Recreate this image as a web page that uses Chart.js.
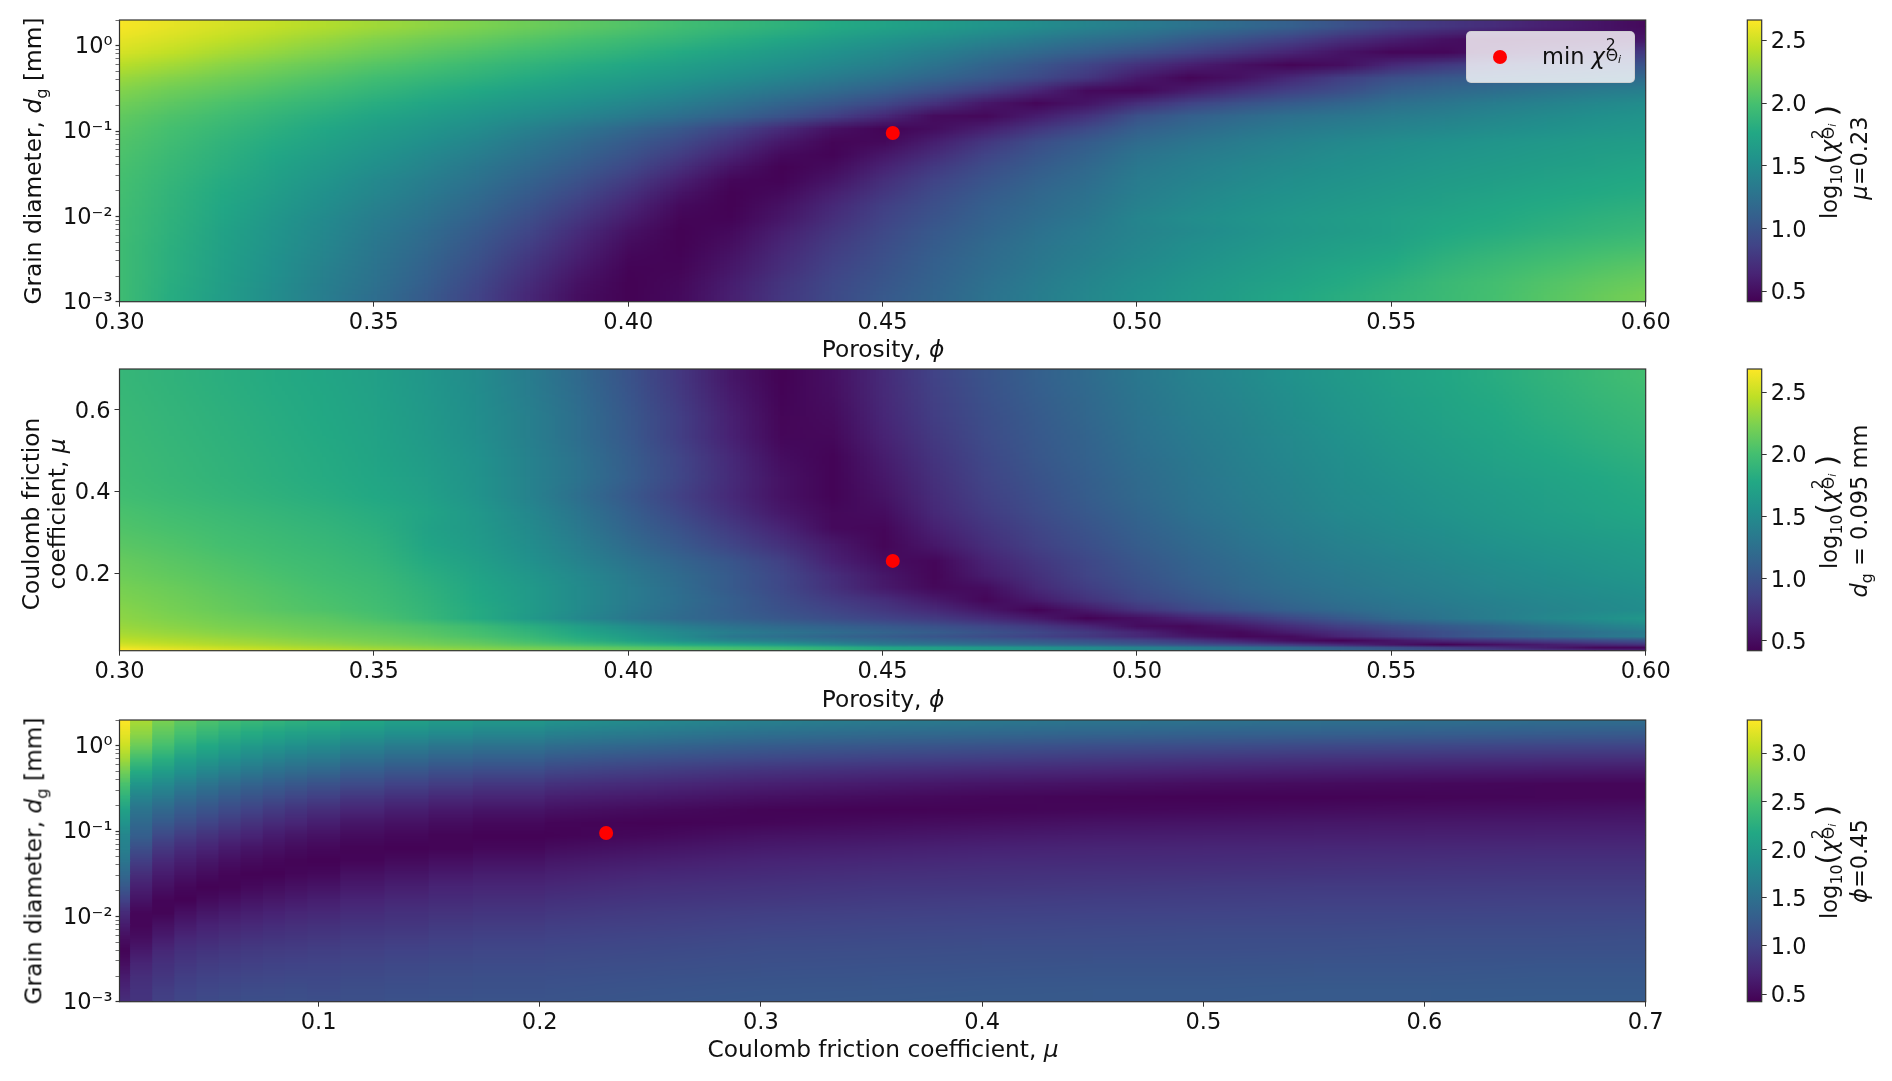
<!DOCTYPE html>
<html><head><meta charset="utf-8">
<script src="https://cdn.jsdelivr.net/npm/chart.js@4"></script>
<style>
html,body{margin:0;padding:0;background:#fff;width:1892px;height:1081px;overflow:hidden}
canvas{position:absolute;left:0}
.lab{position:absolute;white-space:nowrap;font:22.5px "DejaVu Sans";color:#111;transform:translate(-50%,-50%);line-height:1;z-index:5}
.big{font-size:23.3px}
.v{transform:translate(-50%,-50%) rotate(-90deg)}
.lab i{font-style:oblique}
.lab sub,.lab sup{font-size:70%;line-height:0}
.ss{display:inline-block;position:relative;width:1.05em;height:1em;vertical-align:baseline}
.ss b{position:absolute;left:.05em;font-weight:normal;font-size:70%;line-height:1}
.ss .u{top:-.28em}.ss .d{top:.42em;white-space:nowrap}
.ss .d i{font-size:70%;position:relative;top:.2em}
.par{font-size:128%;line-height:0;position:relative;top:.03em}
#legend{position:absolute;left:1466px;top:31px;width:167px;height:50px;background:rgba(255,255,255,.8);border:1px solid rgba(204,204,204,.8);border-radius:5px;z-index:4}
#legend .dot{position:absolute;left:26px;top:18px;width:14px;height:14px;border-radius:50%;background:#f00}
#legend .lab{left:75px;top:22px;transform:translate(0,-50%)}
</style></head><body>
<canvas id="c1" style="top:0"></canvas><canvas id="b1" style="top:0;left:1700px"></canvas>
<canvas id="c2" style="top:349.3px"></canvas><canvas id="b2" style="top:349.3px;left:1700px"></canvas>
<canvas id="c3" style="top:700px"></canvas><canvas id="b3" style="top:700px;left:1700px"></canvas>

<div id="legend"><span class="dot"></span><span class="lab">min <i>χ</i><span class="ss"><b class="u">2</b><b class="d">Θ<i>i</i></b></span></span></div>

<div class="lab big v" style="left:33px;top:161px">Grain diameter, <i>d</i><sub>g</sub> [mm]</div>
<div class="lab big" style="left:883px;top:349px">Porosity, <i>ϕ</i></div>
<div class="lab v" style="left:1827px;top:162px">log<sub>10</sub><span class="par">(</span><i>χ</i><span class="ss"><b class="u">2</b><b class="d">Θ<i>i</i></b></span><span class="par">)</span></div>
<div class="lab v" style="left:1859px;top:158px"><i>μ</i>=0.23</div>

<div class="lab big v" style="left:31px;top:514px">Coulomb friction</div>
<div class="lab big v" style="left:57px;top:514px">coefficient, <i>μ</i></div>
<div class="lab big" style="left:883px;top:699px">Porosity, <i>ϕ</i></div>
<div class="lab v" style="left:1827px;top:512px">log<sub>10</sub><span class="par">(</span><i>χ</i><span class="ss"><b class="u">2</b><b class="d">Θ<i>i</i></b></span><span class="par">)</span></div>
<div class="lab v" style="left:1859px;top:511px"><i>d</i><sub>g</sub> = 0.095 mm</div>

<div class="lab big v" style="left:33px;top:861px">Grain diameter, <i>d</i><sub>g</sub> [mm]</div>
<div class="lab big" style="left:883px;top:1049px">Coulomb friction coefficient, <i>μ</i></div>
<div class="lab v" style="left:1827px;top:862px">log<sub>10</sub><span class="par">(</span><i>χ</i><span class="ss"><b class="u">2</b><b class="d">Θ<i>i</i></b></span><span class="par">)</span></div>
<div class="lab v" style="left:1859px;top:861px"><i>ϕ</i>=0.45</div>

<script>
// ---- axes and tick labels ----
const phiKnots=[.30,.31,.32,.33,.34,.35,.36,.37,.38,.39,.40,.41,.42,.43,.44,.45,.46,.47,.48,.49,.50,.51,.52,.53,.54,.55,.56,.57,.58,.59,.60];
const dgEdges=[.001,.00141,.002,.00282,.00398,.00562,.00794,.0112,.0158,.0224,.0316,.0447,.0631,.0891,.126,.178,.251,.355,.501,.708,1,1.41,2];
const muEdges=[.01,.015,.02,.03,.04,.05,.06,.08,.10,.12,.15,.18,.21,.25,.29,.33,.37,.41,.46,.51,.56,.61,.66,.70];
const muColumns=[.01,.02,.03,.04,.05,.06,.07,.08,.09,.10,.12,.14,.16,.18,.20,.25,.30,.35,.40,.45,.50,.55,.60,.65,.70];
const phiTicks=[.30,.35,.40,.45,.50,.55,.60];
const muTicksY=[.2,.4,.6];
const muTicksX=[.1,.2,.3,.4,.5,.6,.7];
const dgMajorTicks=[.001,.01,.1,1];
const dgMajorLabels=["10⁻³","10⁻²","10⁻¹","10⁰"];
const dgMinorTicks=[.002,.003,.004,.005,.006,.007,.008,.009,.02,.03,.04,.05,.06,.07,.08,.09,.2,.3,.4,.5,.6,.7,.8,.9,2];
const cbarTicks1=[.5,1,1.5,2,2.5];
const cbarTicks3=[.5,1,1.5,2,2.5,3];
const cbarRange1=[.42,2.66], cbarRange2=[.42,2.69], cbarRange3=[.42,3.35];
const viridis=["#440154","#482475","#414487","#355f8d","#2a788e","#21918c","#22a884","#44bf70","#7ad151","#bddf26","#fde725"];
// ---- best fit ----
const minPhi=[.452], minDg=[.095], minMu=[.23];

// ---- log10(chi^2): dg rows (bottom to top) across phi ----
const gridPhiDg=[
[1.95,1.80,1.66,1.50,1.36,1.23,1.06,.87,.67,.50,.43,.48,.62,.78,.92,1.04,1.15,1.26,1.36,1.45,1.53,1.61,1.68,1.75,1.81,1.87,1.93,1.99,2.06,2.13,2.20],
[1.95,1.81,1.67,1.52,1.38,1.25,1.09,.90,.71,.53,.43,.47,.60,.76,.90,1.02,1.13,1.24,1.34,1.43,1.51,1.59,1.66,1.72,1.78,1.84,1.92,1.98,2.04,2.10,2.15],
[1.95,1.82,1.68,1.54,1.40,1.27,1.12,.94,.75,.57,.44,.45,.57,.72,.87,.99,1.11,1.22,1.32,1.41,1.49,1.56,1.63,1.69,1.75,1.80,1.88,1.94,2.00,2.05,2.10],
[1.95,1.82,1.69,1.55,1.42,1.29,1.15,.98,.79,.61,.46,.44,.54,.69,.84,.97,1.09,1.20,1.30,1.38,1.46,1.53,1.60,1.66,1.71,1.76,1.84,1.90,1.95,2.00,2.04],
[1.95,1.83,1.70,1.57,1.44,1.31,1.18,1.02,.84,.65,.49,.43,.51,.66,.81,.94,1.07,1.18,1.28,1.36,1.44,1.51,1.57,1.63,1.68,1.72,1.80,1.85,1.90,1.94,1.98],
[1.96,1.84,1.71,1.58,1.46,1.33,1.21,1.06,.89,.70,.53,.43,.48,.62,.77,.91,1.04,1.15,1.25,1.34,1.42,1.48,1.54,1.60,1.64,1.69,1.76,1.80,1.84,1.88,1.92],
[1.96,1.85,1.73,1.60,1.48,1.36,1.25,1.11,.95,.77,.59,.45,.44,.56,.72,.87,1.00,1.12,1.22,1.31,1.43,1.50,1.56,1.61,1.65,1.69,1.73,1.77,1.81,1.85,1.88],
[1.97,1.86,1.75,1.63,1.51,1.40,1.29,1.16,1.01,.83,.65,.48,.43,.53,.68,.84,.97,1.09,1.19,1.28,1.40,1.47,1.53,1.58,1.62,1.66,1.70,1.74,1.78,1.81,1.84],
[1.98,1.87,1.77,1.66,1.54,1.44,1.33,1.21,1.07,.91,.73,.54,.43,.48,.62,.78,.93,1.05,1.16,1.25,1.37,1.44,1.50,1.55,1.59,1.63,1.67,1.71,1.74,1.77,1.80],
[1.99,1.89,1.79,1.69,1.58,1.47,1.37,1.26,1.13,.98,.81,.62,.46,.44,.55,.72,.87,1.00,1.12,1.22,1.35,1.41,1.47,1.52,1.56,1.60,1.64,1.67,1.71,1.74,1.77],
[2.00,1.91,1.82,1.72,1.62,1.52,1.42,1.31,1.19,1.06,.90,.72,.54,.43,.49,.64,.80,.94,1.07,1.18,1.32,1.38,1.44,1.49,1.53,1.57,1.61,1.64,1.67,1.70,1.74],
[2.02,1.93,1.84,1.75,1.66,1.57,1.47,1.37,1.25,1.13,.98,.82,.64,.48,.44,.56,.71,.87,1.01,1.13,1.27,1.34,1.40,1.45,1.50,1.54,1.58,1.61,1.64,1.67,1.70],
[2.04,1.96,1.87,1.79,1.71,1.62,1.53,1.43,1.32,1.20,1.06,.92,.75,.57,.45,.47,.61,.78,.94,1.07,1.20,1.28,1.35,1.41,1.46,1.50,1.54,1.58,1.61,1.64,1.66],
[2.07,1.99,1.91,1.83,1.75,1.67,1.59,1.50,1.40,1.29,1.16,1.03,.87,.69,.52,.44,.50,.62,.78,.93,1.10,1.19,1.27,1.33,1.38,1.42,1.46,1.50,1.54,1.58,1.61],
[2.11,2.03,1.96,1.88,1.81,1.73,1.66,1.58,1.50,1.42,1.33,1.23,1.12,.99,.84,.68,.49,.47,.60,.75,.98,1.10,1.18,1.25,1.30,1.35,1.39,1.44,1.49,1.53,1.57],
[2.17,2.09,2.02,1.95,1.88,1.81,1.74,1.67,1.60,1.53,1.45,1.36,1.26,1.15,1.03,.90,.74,.56,.46,.55,.72,.87,.98,1.07,1.15,1.24,1.30,1.36,1.41,1.46,1.50],
[2.24,2.16,2.10,2.03,1.96,1.89,1.82,1.76,1.69,1.63,1.56,1.48,1.39,1.30,1.20,1.09,.97,.83,.66,.48,.46,.59,.73,.85,.95,1.10,1.17,1.23,1.29,1.34,1.38],
[2.32,2.25,2.18,2.11,2.04,1.97,1.91,1.85,1.79,1.72,1.66,1.59,1.51,1.43,1.34,1.25,1.15,1.04,.92,.78,.58,.45,.53,.68,.83,.96,1.03,1.08,1.12,1.16,1.20],
[2.42,2.35,2.27,2.20,2.13,2.06,2.00,1.93,1.87,1.81,1.75,1.68,1.61,1.54,1.46,1.38,1.27,1.15,1.02,.88,.74,.62,.52,.45,.50,.68,.79,.87,.93,.97,1.00],
[2.52,2.45,2.37,2.30,2.23,2.16,2.09,2.03,1.97,1.91,1.85,1.78,1.71,1.63,1.55,1.47,1.38,1.28,1.18,1.08,.98,.87,.76,.65,.54,.46,.46,.55,.63,.72,.80],
[2.58,2.52,2.45,2.38,2.31,2.24,2.18,2.12,2.06,2.00,1.94,1.88,1.81,1.74,1.66,1.58,1.50,1.42,1.33,1.24,1.18,1.06,.96,.85,.72,.61,.52,.46,.48,.52,.57],
[2.64,2.58,2.52,2.46,2.40,2.34,2.28,2.22,2.16,2.10,2.04,1.97,1.91,1.85,1.78,1.72,1.65,1.58,1.50,1.42,1.35,1.27,1.19,1.10,.98,.85,.77,.70,.62,.55,.47]
];

// ---- log10(chi^2): mu rows (bottom to top) across phi ----
const gridPhiMu=[
[2.68,2.62,2.56,2.50,2.45,2.40,2.35,2.30,2.25,2.20,2.15,2.10,2.05,2.00,1.90,1.80,1.73,1.66,1.60,1.53,1.45,1.38,1.31,1.24,1.15,1.04,.93,.82,.72,.62,.58],
[2.62,2.56,2.50,2.44,2.39,2.34,2.29,2.24,2.19,2.14,2.09,2.04,1.98,1.92,1.85,1.75,1.69,1.63,1.57,1.50,1.43,1.35,1.26,1.17,1.07,.96,.84,.72,.60,.47,.46],
[2.54,2.48,2.42,2.37,2.32,2.27,2.22,2.16,2.08,2.00,1.90,1.80,1.72,1.62,1.48,1.35,1.30,1.25,1.19,1.13,1.05,.97,.88,.79,.67,.54,.44,.52,.60,.68,.75],
[2.47,2.42,2.37,2.32,2.27,2.22,2.17,2.10,2.00,1.87,1.72,1.56,1.44,1.36,1.28,1.20,1.14,1.08,1.03,.97,.88,.77,.63,.50,.44,.55,.68,.77,.85,.93,1.00],
[2.42,2.37,2.32,2.27,2.22,2.18,2.12,2.04,1.94,1.81,1.66,1.50,1.32,1.25,1.16,1.08,1.02,.95,.87,.79,.68,.56,.46,.49,.66,.81,.97,1.09,1.19,1.29,1.38],
[2.38,2.33,2.28,2.24,2.19,2.15,2.09,2.01,1.90,1.76,1.61,1.48,1.37,1.29,1.22,1.15,1.08,1.00,.91,.80,.66,.50,.47,.60,.72,.85,.97,1.08,1.18,1.27,1.36],
[2.34,2.29,2.24,2.20,2.15,2.11,2.05,1.96,1.84,1.69,1.53,1.38,1.27,1.19,1.12,1.05,.98,.90,.80,.66,.50,.47,.58,.72,.85,.96,1.06,1.16,1.27,1.38,1.48],
[2.30,2.25,2.20,2.15,2.11,2.04,1.93,1.80,1.64,1.47,1.32,1.20,1.12,1.03,.95,.87,.80,.70,.58,.44,.52,.65,.77,.92,1.05,1.20,1.30,1.38,1.46,1.54,1.62],
[2.28,2.22,2.16,2.10,2.05,2.00,1.91,1.80,1.66,1.50,1.35,1.22,1.09,.98,.88,.79,.69,.56,.44,.58,.76,.90,1.02,1.12,1.20,1.27,1.33,1.39,1.44,1.48,1.52],
[2.25,2.20,2.14,2.08,2.03,1.98,1.89,1.78,1.65,1.50,1.36,1.24,1.10,.95,.82,.72,.58,.46,.59,.75,.89,1.00,1.10,1.19,1.26,1.32,1.37,1.42,1.46,1.50,1.54],
[2.22,2.17,2.11,2.06,2.01,1.96,1.87,1.76,1.64,1.50,1.36,1.22,1.06,.91,.74,.58,.47,.50,.69,.83,.96,1.07,1.17,1.25,1.31,1.36,1.41,1.46,1.50,1.54,1.57],
[2.18,2.13,2.08,2.03,1.98,1.94,1.84,1.73,1.61,1.48,1.34,1.20,1.06,.90,.72,.56,.45,.60,.74,.88,1.00,1.11,1.20,1.28,1.34,1.39,1.44,1.49,1.53,1.57,1.61],
[2.15,2.10,2.05,2.00,1.96,1.91,1.80,1.69,1.56,1.43,1.28,1.15,1.02,.85,.63,.50,.46,.64,.78,.91,1.03,1.14,1.23,1.31,1.37,1.42,1.47,1.52,1.56,1.60,1.65],
[2.10,2.06,2.01,1.97,1.93,1.88,1.75,1.65,1.53,1.38,1.21,1.05,.89,.74,.58,.45,.57,.72,.85,.97,1.08,1.18,1.27,1.35,1.41,1.46,1.51,1.56,1.60,1.64,1.68],
[2.06,2.02,1.98,1.94,1.90,1.85,1.72,1.63,1.50,1.34,1.15,.98,.81,.65,.48,.46,.63,.77,.89,1.01,1.12,1.22,1.31,1.38,1.45,1.50,1.55,1.60,1.65,1.69,1.73],
[2.03,1.99,1.95,1.91,1.87,1.82,1.74,1.62,1.47,1.30,1.10,.91,.73,.57,.47,.50,.68,.82,.94,1.05,1.16,1.26,1.34,1.41,1.48,1.53,1.58,1.63,1.68,1.73,1.78],
[1.99,1.95,1.91,1.87,1.83,1.78,1.70,1.58,1.43,1.25,1.05,.85,.68,.53,.44,.54,.71,.85,.97,1.08,1.19,1.28,1.36,1.43,1.50,1.55,1.60,1.65,1.70,1.75,1.80],
[1.97,1.93,1.89,1.85,1.81,1.76,1.68,1.57,1.43,1.28,1.09,.89,.70,.53,.44,.57,.74,.88,1.00,1.10,1.21,1.30,1.38,1.45,1.52,1.57,1.63,1.68,1.73,1.78,1.83],
[1.96,1.92,1.88,1.84,1.80,1.74,1.66,1.56,1.42,1.27,1.08,.88,.68,.50,.44,.60,.77,.91,1.03,1.13,1.24,1.32,1.40,1.47,1.54,1.60,1.66,1.72,1.77,1.82,1.87],
[1.95,1.91,1.87,1.83,1.79,1.73,1.64,1.54,1.40,1.24,1.05,.83,.63,.46,.47,.64,.80,.94,1.05,1.15,1.26,1.35,1.42,1.49,1.56,1.63,1.69,1.75,1.81,1.86,1.91],
[1.94,1.90,1.86,1.82,1.78,1.72,1.63,1.53,1.40,1.24,1.04,.83,.62,.45,.49,.67,.83,.96,1.07,1.17,1.28,1.37,1.44,1.52,1.59,1.66,1.72,1.78,1.84,1.89,1.94],
[1.93,1.89,1.85,1.81,1.77,1.71,1.62,1.52,1.38,1.22,1.02,.80,.59,.44,.51,.69,.85,.98,1.09,1.19,1.30,1.39,1.46,1.54,1.61,1.68,1.74,1.80,1.86,1.92,1.97],
[1.92,1.88,1.84,1.80,1.76,1.70,1.61,1.51,1.37,1.20,1.00,.78,.56,.43,.52,.70,.87,1.00,1.11,1.21,1.32,1.41,1.48,1.56,1.63,1.70,1.76,1.82,1.88,1.94,2.00]
];

// ---- log10(chi^2): one column per mu, dg knots bottom to top ----
const gridMuDg=[
[.80,.72,.64,.53,.45,.53,.64,.78,1.00,1.22,1.40,1.56,1.68,1.76,1.92,2.09,2.30,2.50,2.72,2.94,3.12,3.25,3.35],
[.86,.84,.80,.72,.62,.53,.46,.47,.58,.68,.80,.95,1.12,1.30,1.42,1.55,1.72,1.95,2.20,2.45,2.68,2.85,2.97],
[.98,.94,.88,.82,.75,.65,.55,.45,.46,.55,.65,.76,.90,1.06,1.25,1.40,1.60,1.80,2.03,2.25,2.47,2.62,2.76],
[1.04,1.00,.95,.89,.82,.74,.64,.54,.44,.48,.57,.67,.79,.94,1.12,1.28,1.45,1.66,1.88,2.08,2.30,2.48,2.62],
[1.08,1.04,.99,.93,.86,.78,.70,.60,.50,.44,.51,.60,.71,.85,1.02,1.18,1.35,1.55,1.76,1.98,2.18,2.36,2.52],
[1.10,1.06,1.01,.95,.89,.81,.73,.64,.54,.45,.46,.54,.64,.77,.93,1.08,1.25,1.44,1.66,1.87,2.08,2.27,2.44],
[1.12,1.08,1.03,.97,.91,.84,.76,.67,.58,.49,.44,.50,.59,.71,.85,1.00,1.17,1.36,1.58,1.79,2.00,2.20,2.38],
[1.13,1.09,1.04,.99,.93,.86,.79,.70,.61,.52,.44,.47,.55,.65,.78,.92,1.10,1.29,1.50,1.72,1.93,2.14,2.33],
[1.14,1.10,1.05,1.00,.94,.88,.81,.73,.64,.55,.47,.45,.51,.60,.73,.86,1.03,1.22,1.44,1.65,1.87,2.08,2.28],
[1.12,1.08,1.05,1.01,.96,.90,.83,.75,.67,.58,.49,.44,.48,.56,.67,.80,.97,1.16,1.38,1.60,1.82,2.04,2.24],
[1.14,1.11,1.07,1.03,.98,.92,.86,.79,.71,.63,.55,.46,.45,.51,.60,.73,.89,1.08,1.28,1.50,1.72,1.95,2.16],
[1.16,1.13,1.09,1.05,1.00,.94,.88,.82,.75,.67,.59,.50,.44,.48,.56,.67,.82,1.00,1.20,1.42,1.64,1.87,2.08],
[1.17,1.14,1.11,1.07,1.02,.97,.91,.85,.78,.71,.63,.54,.45,.45,.52,.62,.76,.94,1.13,1.35,1.57,1.81,2.03],
[1.18,1.15,1.12,1.08,1.04,.99,.93,.87,.80,.73,.66,.57,.48,.44,.49,.59,.72,.89,1.08,1.30,1.52,1.76,1.98],
[1.18,1.16,1.13,1.09,1.05,1.00,.95,.89,.82,.75,.68,.60,.51,.44,.46,.56,.68,.84,1.03,1.25,1.47,1.71,1.93],
[1.20,1.18,1.15,1.11,1.07,1.03,.98,.93,.87,.81,.74,.66,.58,.49,.44,.50,.62,.76,.93,1.14,1.37,1.60,1.80],
[1.22,1.20,1.17,1.14,1.10,1.06,1.01,.96,.90,.84,.78,.71,.64,.56,.46,.45,.55,.68,.84,1.05,1.27,1.50,1.70],
[1.23,1.21,1.18,1.15,1.11,1.07,1.03,.98,.92,.87,.81,.74,.67,.59,.50,.44,.51,.63,.79,.99,1.21,1.44,1.64],
[1.24,1.22,1.19,1.16,1.12,1.08,1.04,.99,.94,.88,.83,.77,.70,.62,.53,.45,.47,.59,.75,.95,1.17,1.40,1.60],
[1.25,1.23,1.20,1.17,1.13,1.09,1.05,1.00,.95,.90,.84,.78,.72,.65,.56,.47,.45,.56,.72,.91,1.13,1.37,1.56],
[1.25,1.23,1.20,1.17,1.13,1.10,1.06,1.01,.96,.91,.85,.79,.73,.66,.58,.49,.44,.53,.69,.88,1.10,1.34,1.53],
[1.26,1.24,1.21,1.18,1.14,1.10,1.06,1.02,.97,.92,.86,.80,.74,.67,.60,.51,.44,.51,.66,.85,1.07,1.32,1.51],
[1.26,1.24,1.21,1.18,1.15,1.11,1.07,1.02,.97,.92,.87,.81,.75,.68,.61,.53,.45,.49,.64,.83,1.05,1.30,1.50],
[1.27,1.25,1.22,1.19,1.15,1.11,1.07,1.03,.98,.93,.88,.82,.76,.69,.62,.54,.46,.47,.62,.81,1.03,1.28,1.48],
[1.27,1.25,1.22,1.19,1.15,1.12,1.08,1.03,.98,.93,.88,.82,.76,.70,.63,.56,.47,.46,.61,.80,1.02,1.26,1.47]
];

// ---- colour mapping ----
function hex(h){return [1,3,5].map(i=>parseInt(h.substr(i,2),16));}
const vir=viridis.map(hex);
function colour(v,range){
  let t=(v-range[0])/(range[1]-range[0]); t=Math.max(0,Math.min(1,t))*(vir.length-1);
  const i=Math.min(vir.length-2,Math.floor(t)),f=t-i;
  return [0,1,2].map(k=>Math.round(vir[i][k]+(vir[i+1][k]-vir[i][k])*f));
}
// each cell is filled with a small corner-colour texture, shaded between its four readings
const tex=document.createElement('canvas');tex.width=tex.height=4;
const texCtx=tex.getContext('2d',{willReadFrequently:true});
function cellFill(range){
  return ctx=>{
    const r=ctx.raw; if(!r||r.c00===undefined) return '#000';
    const s=ctx.chart.scales;
    const xa=s.x.getPixelForValue(r.x0),xb=s.x.getPixelForValue(r.x1),ya=s.y.getPixelForValue(r.y0),yb=s.y.getPixelForValue(r.y1);
    if(![xa,xb,ya,yb].every(isFinite)||xb<=xa) return '#000';
    const corners=[[r.c01,r.c11],[r.c00,r.c10]].map(row=>row.map(v=>colour(v,range)));
    const img=texCtx.createImageData(4,4);
    for(let j=0;j<4;j++)for(let i=0;i<4;i++){const c=corners[j<2?0:1][i<2?0:1],o=(j*4+i)*4;img.data[o]=c[0];img.data[o+1]=c[1];img.data[o+2]=c[2];img.data[o+3]=255;}
    texCtx.putImageData(img,0,0);
    const p=ctx.chart.ctx.createPattern(tex,'repeat'),w=xb-xa,h=ya-yb;
    p.setTransform(new DOMMatrix().translate(xa-1.5*w,yb-1.5*h).scale(w,h));
    return p;
  };
}
const barBase={type:'bar',stack:'s',barThickness:'flex',categoryPercentage:1,barPercentage:1,borderWidth:0,inflateAmount:.5};
const logMid=(a,b)=>Math.sqrt(a*b), linMid=(a,b)=>(a+b)/2;
function rowsAcross(rows,xs,ys,mid,range){
  const yK=[ys[0]].concat(rows.map((_,r)=>mid(ys[r],ys[r+1])),[ys[ys.length-1]]);
  const rK=[rows[0]].concat(rows,[rows[rows.length-1]]);
  return yK.slice(0,-1).map((y0,r)=>Object.assign({},barBase,{backgroundColor:cellFill(range),
    data:xs.slice(0,-1).map((x0,i)=>({x:(x0+xs[i+1])/2,y:[y0,yK[r+1]],x0,x1:xs[i+1],y0,y1:yK[r+1],
      c00:rK[r][i],c10:rK[r][i+1],c01:rK[r+1][i],c11:rK[r+1][i+1]}))}));
}
function columnsAlong(cols,xs,ys,stripes,range){
  return ys.slice(0,-1).map((y0,r)=>{
    const y1=ys[r+1],data=[];
    cols.forEach((col,c)=>{
      if(c<stripes) data.push({x:xs[c],y:[y0,y1],x0:xs[c]-.005,x1:xs[c]+.005,y0,y1,c00:col[r],c10:col[r],c01:col[r+1],c11:col[r+1]});
      else if(c<cols.length-1){const nx=cols[c+1];data.push({x:(xs[c]+xs[c+1])/2,y:[y0,y1],x0:xs[c],x1:xs[c+1],y0,y1,c00:col[r],c10:nx[r],c01:col[r+1],c11:nx[r+1]});}
    });
    return Object.assign({},barBase,{backgroundColor:cellFill(range),data});
  });
}
function bestFit(x,y){return {type:'scatter',order:-1,data:[{x:x[0],y:y[0]}],pointRadius:7,pointBackgroundColor:'#f00',pointBorderWidth:0};}

// ---- shared layout ----
const FONT={family:'"DejaVu Sans"',size:22.5};
const TOP=20,PLOT_H=281.7,CAN_H=340,LEFT=119.5,RIGHT=1645.7;
const frame={id:'frame',afterDatasetsDraw(c){const a=c.chartArea,x=c.ctx;x.save();x.strokeStyle='#333';x.lineWidth=1.2;x.strokeRect(a.left,a.top,a.right-a.left,a.bottom-a.top);x.restore();}};
const tickCommon={color:'#111',font:FONT,autoSkip:false,maxRotation:0,minRotation:0};
const gridCommon={drawOnChartArea:false,drawTicks:true,tickLength:5,tickColor:'#333',tickWidth:1};
function setTicks(list){return s=>{s.ticks=list.map(v=>({value:v}));};}
function xAxis(min,max,list,dec){return {type:'linear',offset:false,min,max,afterBuildTicks:setTicks(list),
  afterFit:s=>{s.height=CAN_H-TOP-PLOT_H;},border:{display:false},grid:Object.assign({offset:false},gridCommon),
  ticks:Object.assign({},tickCommon,{padding:3,callback:v=>v.toFixed(dec)})};}
function yLog(){const all=dgMajorTicks.concat(dgMinorTicks);return {type:'logarithmic',stacked:false,min:.001,max:2,afterBuildTicks:setTicks(all),
  afterFit:s=>{s.width=LEFT;},border:{display:false},grid:Object.assign({},gridCommon,{tickLength:4,tickWidth:c=>dgMajorTicks.includes(c.tick&&c.tick.value)?1.2:.7}),
  ticks:Object.assign({},tickCommon,{padding:3,labelOffset:1.5,callback:v=>{const i=dgMajorTicks.indexOf(v);return i>=0?dgMajorLabels[i]:'';}})};}
function yLin(){return {type:'linear',stacked:false,min:.01,max:.70,afterBuildTicks:setTicks(muTicksY),
  afterFit:s=>{s.width=LEFT;},border:{display:false},grid:gridCommon,
  ticks:Object.assign({},tickCommon,{padding:4,labelOffset:2,callback:v=>v.toFixed(1)})};}
function panel(id,datasets,x,y){
  const el=document.getElementById(id);el.width=1892;el.height=CAN_H;el.style.width='1892px';el.style.height=CAN_H+'px';
  new Chart(el,{type:'bar',data:{datasets},plugins:[frame],options:{responsive:false,animation:false,devicePixelRatio:1,
    layout:{padding:{left:0,top:TOP,right:1892-RIGHT,bottom:0}},
    plugins:{legend:{display:false},tooltip:{enabled:false}},events:[],scales:{x,y}}});
}
function colourbar(id,range,ticks){
  const el=document.getElementById(id),W=192;el.width=W;el.height=CAN_H;el.style.width=W+'px';el.style.height=CAN_H+'px';
  new Chart(el,{type:'bar',data:{labels:[''],datasets:[{data:[[range[0],range[1]]],categoryPercentage:1,barPercentage:1,borderWidth:0,
    backgroundColor:c=>{const s=c.chart.scales.y;if(!s||!isFinite(s.bottom)||!isFinite(s.top))return '#000';
      const g=c.chart.ctx.createLinearGradient(0,s.bottom,0,s.top);
      viridis.forEach((h,i)=>g.addColorStop(i/(viridis.length-1),h));return g;}}]},
    plugins:[frame],options:{responsive:false,animation:false,devicePixelRatio:1,events:[],
    layout:{padding:{left:47.3,top:TOP,right:0,bottom:CAN_H-TOP-PLOT_H}},plugins:{legend:{display:false},tooltip:{enabled:false}},
    scales:{x:{display:false},y:{type:'linear',position:'right',min:range[0],max:range[1],afterBuildTicks:setTicks(ticks),
      afterFit:s=>{s.width=W-47.3-14.4;},border:{display:false},grid:gridCommon,
      ticks:Object.assign({},tickCommon,{padding:4,labelOffset:2,callback:v=>v.toFixed(1)})}}}});
}

panel('c1',rowsAcross(gridPhiDg,phiKnots,dgEdges,logMid,cbarRange1).concat([bestFit(minPhi,minDg)]),xAxis(.30,.60,phiTicks,2),yLog());
panel('c2',rowsAcross(gridPhiMu,phiKnots,muEdges,linMid,cbarRange2).concat([bestFit(minPhi,minMu)]),xAxis(.30,.60,phiTicks,2),yLin());
panel('c3',columnsAlong(gridMuDg,muColumns,dgEdges,14,cbarRange3).concat([bestFit(minMu,minDg)]),xAxis(.01,.70,muTicksX,1),yLog());
colourbar('b1',cbarRange1,cbarTicks1);
colourbar('b2',cbarRange2,cbarTicks1);
colourbar('b3',cbarRange3,cbarTicks3);
</script>
</body></html>
